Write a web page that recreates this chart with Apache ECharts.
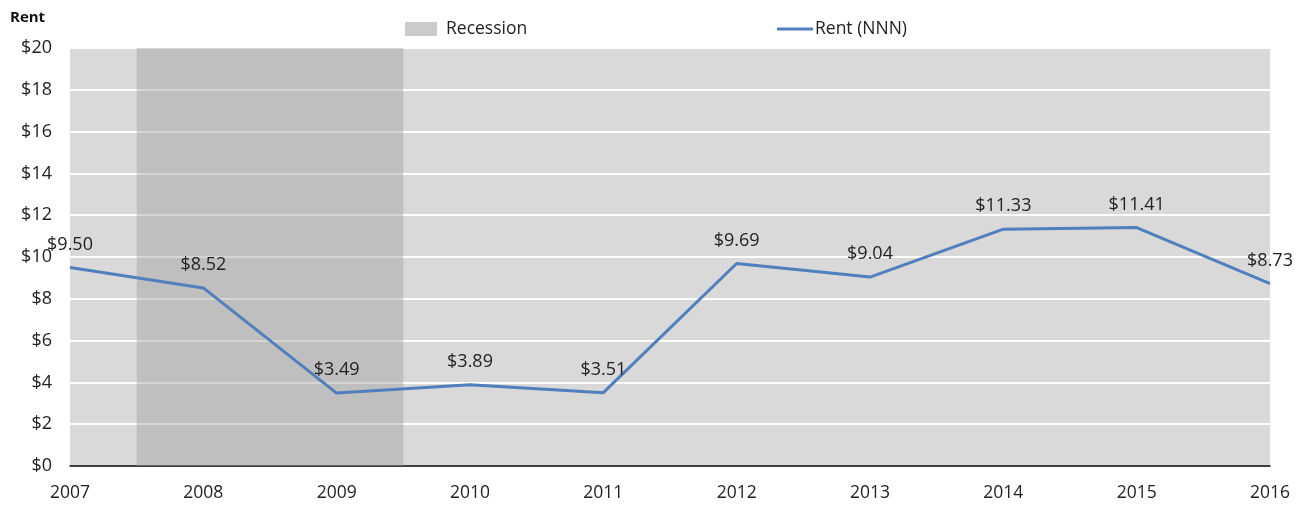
<!DOCTYPE html>
<html>
<head>
<meta charset="utf-8">
<script src="https://cdn.jsdelivr.net/npm/echarts@6/dist/echarts.min.js"></script>
<style>
  html, body { margin: 0; padding: 0; background: #fff; }
  #chart { width: 1309px; height: 505px; }
</style>
</head>
<body>
<div id="chart"></div>
<script>
// Annual NNN rent, 2007–2016
const years = [2007, 2008, 2009, 2010, 2011, 2012, 2013, 2014, 2015, 2016];
const rent = [9.50, 8.52, 3.49, 3.89, 3.51, 9.69, 9.04, 11.33, 11.41, 8.73];
// Recession shading spans half a year either side of 2008–2009
const recessionSpan = [2007.5, 2009.5];
const yTicks = [0, 2, 4, 6, 8, 10, 12, 14, 16, 18, 20];

const FONT = '"Open Sans", sans-serif';
const TEXT = '#222';
const chart = echarts.init(document.getElementById('chart'));

chart.setOption({
  animation: false,
  textStyle: { fontFamily: FONT },
  title: {
    text: 'Rent',
    left: 5, top: 5,
    textStyle: { fontFamily: FONT, fontSize: 15, fontWeight: 'bold', color: '#111' }
  },
  legend: [
    {
      data: [{ name: 'Recession', icon: 'rect', itemStyle: { color: '#cbcbcb' } }],
      left: 405, top: 20, padding: 0,
      itemWidth: 32, itemHeight: 14, itemGap: 6,
      textStyle: { fontFamily: FONT, fontSize: 17.5, color: TEXT, padding: [0, 0, 0, 4] },
      selectedMode: false
    },
    {
      data: [{ name: 'Rent (NNN)', icon: 'rect', itemStyle: { color: '#4f7fbc' } }],
      left: 777, top: 20, padding: 0,
      itemWidth: 36, itemHeight: 3,
      textStyle: { fontFamily: FONT, fontSize: 17.5, color: TEXT, padding: [0, 0, 0, -3] },
      selectedMode: false
    }
  ],
  grid: {
    left: 70, right: 39, top: 48, bottom: 39,
    show: true, backgroundColor: '#d9d9d9', borderWidth: 0,
    containLabel: false
  },
  xAxis: {
    type: 'value',
    min: years[0], max: years[years.length - 1], interval: 1,
    axisLine: { show: true, lineStyle: { color: '#000', width: 1.5 } },
    axisTick: { show: false },
    splitLine: { show: false },
    axisLabel: {
      margin: 18, fontSize: 17.5, color: TEXT, fontFamily: FONT,
      formatter: v => String(v)
    }
  },
  yAxis: {
    type: 'value',
    min: yTicks[0], max: yTicks[yTicks.length - 1], interval: 2,
    axisLine: { show: false },
    axisTick: { show: false },
    splitLine: { show: true, lineStyle: { color: '#ffffff', width: 2 } },
    axisLabel: {
      margin: 18, fontSize: 18, color: TEXT, fontFamily: FONT,
      formatter: v => '$' + v
    }
  },
  series: [
    {
      name: 'Recession',
      type: 'line',
      data: [],
      markArea: {
        silent: true,
        itemStyle: { color: 'rgba(155,155,155,0.42)' },
        data: [[{ xAxis: recessionSpan[0] }, { xAxis: recessionSpan[1] }]]
      }
    },
    {
      name: 'Rent (NNN)',
      type: 'line',
      data: years.map((y, i) => [y, rent[i]]),
      symbol: 'circle',
      symbolSize: 0,
      showSymbol: true,
      lineStyle: { color: '#4f7fbc', width: 3 },
      itemStyle: { color: '#4f7fbc' },
      label: {
        show: true,
        position: 'top',
        distance: 14,
        fontSize: 18,
        color: TEXT,
        fontFamily: FONT,
        formatter: p => '$' + p.value[1].toFixed(2)
      }
    }
  ]
});
</script>
</body>
</html>
